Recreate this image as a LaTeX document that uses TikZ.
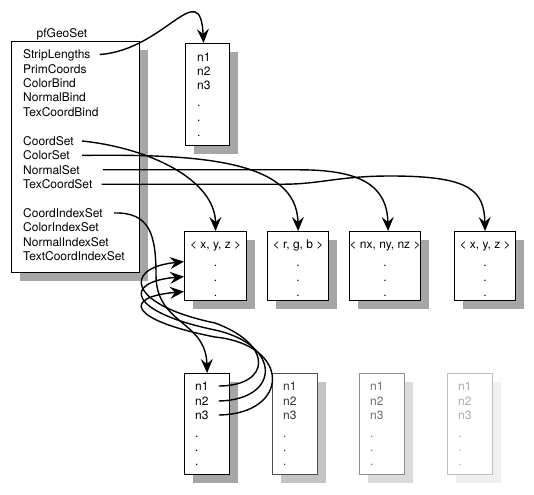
\documentclass[tikz,border=0pt]{standalone}
\usepackage{fontspec}
\setmainfont{TeX Gyre Heros}
\usetikzlibrary{arrows.meta,shadows}

\begin{document}
\begin{tikzpicture}[
					x = 1pt, y = -1pt,
					every node/.style = {font = \fontsize{12}{14}\selectfont},
					field/.style = {anchor = west, inner sep = 0pt, text height = 8.6pt, text depth = 0pt},
					cell/.style = {inner sep = 0pt, text height = 8.6pt, text depth = 0pt},
					array/.style = {draw = #1, fill = white, line width = 1.2pt, anchor = north west, inner sep = 0pt},
					boxshade/.style = {general shadow = {fill = #1, shadow xshift = 8pt, shadow yshift = -8pt}},
					link/.style = {line width = 1.4pt, -{Stealth[length = 14pt, width = 12pt, inset = 5pt]}}]
					\useasboundingbox (0,0) rectangle (534,494);

					% pfGeoSet record
					\node[array = black, boxshade = black!35, minimum width = 128pt, minimum height = 231pt] (geoset) at (11,41) {};
					\node[cell] (title) at (62,33) {pfGeoSet};
					\node[field] (strip) at (23,54.5) {StripLengths};
					\node[field] (prim) at (23,68.9) {PrimCoords};
					\node[field] (colbind) at (23,83.3) {ColorBind};
					\node[field] (normbind) at (23,97.7) {NormalBind};
					\node[field] (texbind) at (23,112.1) {TexCoordBind};
					\node[field] (coordset) at (23,141) {CoordSet};
					\node[field] (colorset) at (23,155.4) {ColorSet};
					\node[field] (normalset) at (23,169.8) {NormalSet};
					\node[field] (texset) at (23,184.2) {TexCoordSet};
					\node[field] (coordidx) at (23,213) {CoordIndexSet};
					\node[field] (coloridx) at (23,227.4) {ColorIndexSet};
					\node[field] (normalidx) at (23,241.8) {NormalIndexSet};
					\node[field] (texidx) at (23,256.2) {TextCoordIndexSet};

					% strip lengths
					\node[array = black, boxshade = black!35, minimum width = 44pt, minimum height = 102pt] (lengths) at (185,43) {};
					\foreach \t/\y in {n1/14, n2/28, n3/42, ./59, ./74, ./89}
						\node[field] at ([xshift = 12pt, yshift = -\y pt]lengths.north west) {\t};

					% attribute arrays
					\node[array = black, boxshade = black!35, minimum width = 62pt, minimum height = 69pt] (coords) at (184,231) {};
					\node[array = black, boxshade = black!35, minimum width = 61pt, minimum height = 69pt] (colors) at (267,231) {};
					\node[array = black, boxshade = black!35, minimum width = 71pt, minimum height = 69pt] (normals) at (349,231) {};
					\node[array = black, boxshade = black!35, minimum width = 61pt, minimum height = 69pt] (texcoords) at (454,231) {};
					\node[cell] at ([yshift = -13pt]coords.north) {< x, y, z >};
					\node[cell] at ([yshift = -13pt]colors.north) {< r, g, b >};
					\node[cell] at ([yshift = -13pt]normals.north) {< nx, ny, nz >};
					\node[cell] at ([yshift = -13pt]texcoords.north) {< x, y, z >};
					\foreach \a in {coords, colors, normals, texcoords}
						\foreach \y in {31, 46, 61}
							\node[cell] at ([yshift = -\y pt]\a.north) {.};

					% index arrays
					\foreach \i/\x/\ln/\tx/\sh in {a/184/black/black/black!35, b/272/black!69/black!80/black!23, c/359/black!45/black!57/black!14, d/447/black!25/black!33/black!6}{
						\node[array = \ln, boxshade = \sh, minimum width = 45pt, minimum height = 101pt] (idx\i) at (\x,373) {};
						\node[field, text = \tx] (idx\i1) at ([xshift = 11pt, yshift = -13pt]idx\i.north west) {n1};
						\node[field, text = \tx] (idx\i2) at ([xshift = 11pt, yshift = -28pt]idx\i.north west) {n2};
						\node[field, text = \tx] (idx\i3) at ([xshift = 11pt, yshift = -42pt]idx\i.north west) {n3};
						\foreach \y in {60, 74, 88}
							\node[field, text = \tx] at ([xshift = 11pt, yshift = -\y pt]idx\i.north west) {.};
					}

					% connectors
					\draw[link] ([xshift = 9pt]strip.east) .. controls (165,50) and (200,-25) .. ([xshift = -4pt]lengths.north);
					\draw[link] ([xshift = 8pt]coordset.east) .. controls (150,148) and (215,180) .. (coords.north);
					\draw[link] ([xshift = 12pt]colorset.east) .. controls (200,154) and (297,160) .. (colors.north);
					\draw[link] ([xshift = 23pt]normalset.east) -- (300,169.8) .. controls (360,170) and (387,185) .. ([xshift = 3pt]normals.north);
					\draw[link] ([xshift = 9pt]texset.east) -- (285,184.2) .. controls (320,184) and (340,176) .. (390,176) .. controls (470,176) and (484,190) .. (texcoords.north);
					\draw[link] ([xshift = 11pt]coordidx.east) .. controls (150,212) and (156,235) .. (156,275) .. controls (156,325) and (206,320) .. (idxa.north);

					\draw[link] ([xshift = 10pt]idxa1.east) .. controls (270,386) and (275,345) .. (215,323) .. controls (128,305) and (122,268) .. ([yshift = 4.5pt]coords.west);
					\draw[link] ([xshift = 10pt]idxa2.east) .. controls (280,400) and (283,345) .. (215,330) .. controls (128,312) and (122,282) .. ([yshift = -10.5pt]coords.west);
					\draw[link] ([xshift = 10pt]idxa3.east) .. controls (290,414) and (292,345) .. (215,337) .. controls (128,320) and (122,297) .. ([yshift = -25.5pt]coords.west);

				\end{tikzpicture}
\end{document}
